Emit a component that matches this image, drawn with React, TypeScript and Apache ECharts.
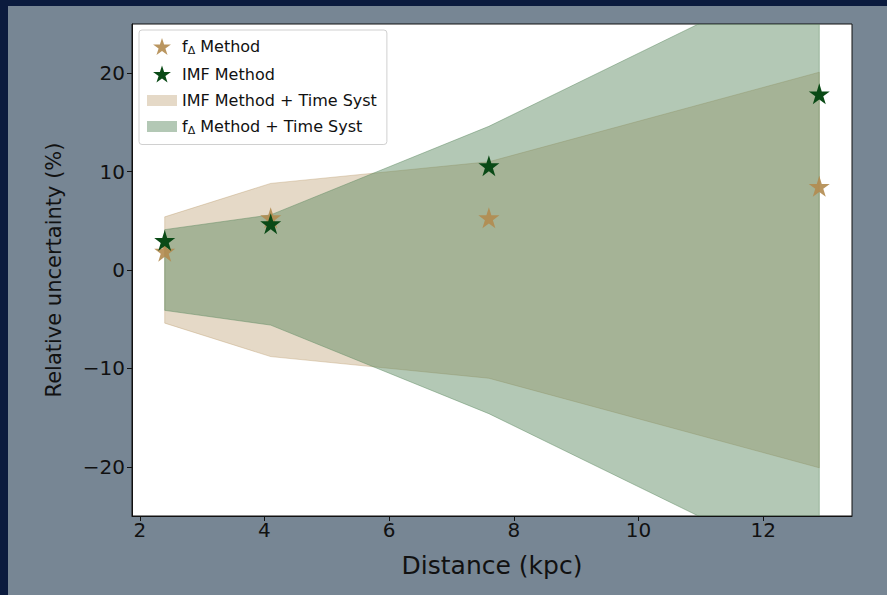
import React, { useEffect, useRef } from "react";
import * as echarts from "echarts";

const distances = [2.4, 4.1, 7.6, 12.9];
const fDeltaMethod = [1.9, 5.3, 5.3, 8.5];
const imfMethod = [3.0, 4.7, 10.6, 17.9];
const imfTimeSystHalf = [5.4, 8.8, 11.0, 20.1];
const fDeltaTimeSystHalf = [4.1, 5.6, 14.6, 31.0];
const xTicks = [2, 4, 6, 8, 10, 12];
const yTicks = [-20, -10, 0, 10, 20];

const STAR =
  "path://M0,-1L0.2245,-0.309L0.951,-0.309L0.363,0.118L0.588,0.809L0,0.382L-0.588,0.809L-0.363,0.118L-0.951,-0.309L-0.2245,-0.309Z";

const N_FD = "fΔ Method";
const N_IMF = "IMF Method";
const N_IMF_T = "IMF Method + Time Syst";
const N_FD_T = "fΔ Method + Time Syst";

const TAN_STAR = "#b38b4f";
const GREEN_STAR = "#0a4a16";
const TAN_BAND = "rgba(184,150,100,0.36)";
const GREEN_BAND = "rgba(87,133,91,0.45)";
const FONT = "DejaVu Sans";

function bandSeries(name: string, half: number[], color: string, z: number) {
  return {
    name,
    type: "custom",
    z,
    itemStyle: { color },
    encode: { x: 0, y: [1, 2] },
    data: distances.map((d, i) => [d, -half[i], half[i]]),
    renderItem: (params: any, api: any) => {
      if (params.dataIndex !== 0) return null;
      const upper = distances.map((d, i) => api.coord([d, half[i]]));
      const lower = distances.map((d, i) => api.coord([d, -half[i]]));
      const poly = upper.concat(lower.slice().reverse());
      const cs = params.coordSys;
      return {
        type: "group",
        children: [
          {
            type: "polygon",
            shape: { points: poly },
            style: { fill: color, stroke: color, lineWidth: 1 },
            clipPath: {
              type: "rect",
              shape: { x: cs.x, y: cs.y, width: cs.width, height: cs.height },
            },
          },
        ],
      };
    },
  };
}

export default function App() {
  const ref = useRef<HTMLDivElement>(null);
  useEffect(() => {
    if (!ref.current) return;
    const chart = echarts.init(ref.current, undefined, { renderer: "svg" });
    const pts = (vals: number[]) => distances.map((d, i) => [d, vals[i]]);
    const fmtLegend = (name: string) => {
      if (name.startsWith("fΔ")) {
        return "{a|f}{s|Δ}{a|" + name.slice(2) + "}";
      }
      return "{a|" + name + "}";
    };
    chart.setOption({
      animation: false,
      backgroundColor: "#0b1b3e",
      graphic: [
        {
          type: "rect",
          z: -10,
          shape: { x: 8, y: 6, width: 879, height: 589 },
          style: { fill: "#778694" },
          silent: true,
        },
      ],
      grid: {
        left: 132,
        right: 35,
        top: 24,
        bottom: 79,
        show: true,
        backgroundColor: "#ffffff",
        borderColor: "#111",
        borderWidth: 1,
      },
      legend: {
        orient: "vertical",
        left: 139,
        top: 30,
        padding: [8, 10, 9, 8],
        itemGap: 10,
        itemWidth: 30,
        itemHeight: 17,
        backgroundColor: "#ffffff",
        borderColor: "#d0d0d0",
        borderWidth: 1,
        borderRadius: 3,
        formatter: fmtLegend,
        textStyle: {
          fontFamily: FONT,
          fontSize: 16,
          color: "#111",
          rich: {
            a: { fontFamily: FONT, fontSize: 16, color: "#111" },
            s: { fontFamily: FONT, fontSize: 11, color: "#111", padding: [7, 0, 0, 0] },
          },
        },
        data: [
          { name: N_FD, icon: STAR, itemStyle: { color: TAN_STAR } },
          { name: N_IMF, icon: STAR, itemStyle: { color: GREEN_STAR } },
          { name: N_IMF_T, icon: "path://M0,0H30V11H0Z", itemStyle: { color: TAN_BAND } },
          { name: N_FD_T, icon: "path://M0,0H30V11H0Z", itemStyle: { color: GREEN_BAND } },
        ],
      },
      xAxis: {
        type: "value",
        min: 1.875,
        max: 13.425,
        name: "Distance (kpc)",
        nameLocation: "middle",
        nameGap: 37,
        nameTextStyle: { fontFamily: FONT, fontSize: 25, color: "#111" },
        axisLine: { show: true, onZero: false, lineStyle: { color: "#111" } },
        axisTick: { show: true, inside: false, length: 5, lineStyle: { color: "#111" }, customValues: xTicks },
        axisLabel: { fontFamily: FONT, fontSize: 20, color: "#111", margin: 4, customValues: xTicks },
        splitLine: { show: false },
      },
      yAxis: {
        type: "value",
        min: -25,
        max: 25,
        name: "Relative uncertainty (%)",
        nameLocation: "middle",
        nameGap: 68,
        nameTextStyle: { fontFamily: FONT, fontSize: 21, color: "#111" },
        axisLine: { show: true, onZero: false, lineStyle: { color: "#111" } },
        axisTick: { show: true, inside: false, length: 5, lineStyle: { color: "#111" }, customValues: yTicks },
        axisLabel: {
          fontFamily: FONT,
          fontSize: 20,
          color: "#111",
          margin: 7,
          customValues: yTicks,
          formatter: (v: number) => (v < 0 ? "\u2212" + Math.abs(v) : String(v)),
        },
        splitLine: { show: false },
      },
      series: [
        bandSeries(N_IMF_T, imfTimeSystHalf, TAN_BAND, 1),
        bandSeries(N_FD_T, fDeltaTimeSystHalf, GREEN_BAND, 2),
        {
          name: N_FD,
          type: "scatter",
          data: pts(fDeltaMethod),
          symbol: STAR,
          symbolSize: 21,
          itemStyle: { color: TAN_STAR, opacity: 0.9 },
          z: 3,
        },
        {
          name: N_IMF,
          type: "scatter",
          data: pts(imfMethod),
          symbol: STAR,
          symbolSize: 21,
          itemStyle: { color: GREEN_STAR, opacity: 1 },
          z: 4,
        },
      ],
    });
    return () => chart.dispose();
  }, []);
  return (
    <div
      ref={ref}
      style={{ position: "fixed", left: 0, top: 0, width: 887, height: 595 }}
    />
  );
}
